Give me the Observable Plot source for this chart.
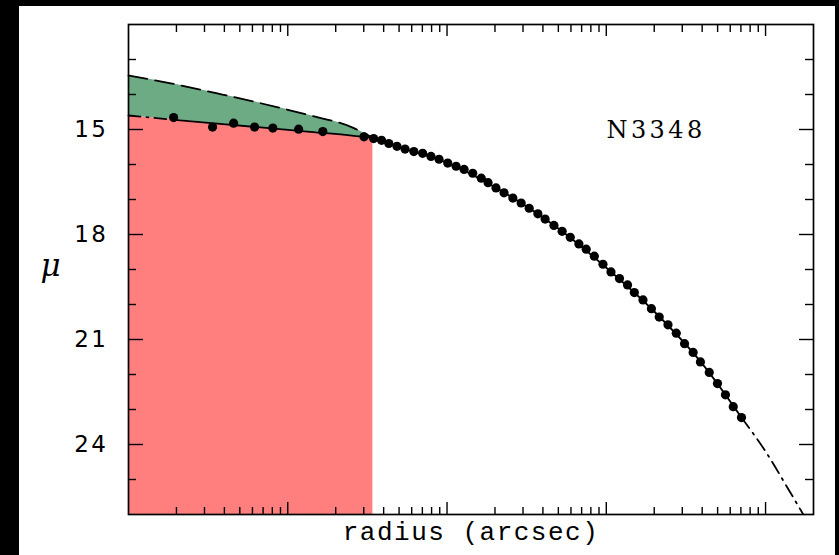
<!DOCTYPE html>
<html>
<head>
<meta charset="utf-8">
<script src="https://cdn.jsdelivr.net/npm/d3@7"></script>
<script src="https://cdn.jsdelivr.net/npm/@observablehq/plot@0.6"></script>
<style>
  html, body { margin: 0; padding: 0; background: #000; width: 839px; height: 555px; overflow: hidden; }
  #panel { position: absolute; left: 19px; top: 6px; width: 816px; height: 549px; background: #fff; }
  #chart { position: absolute; left: 0; top: 0; }
</style>
</head>
<body>
<div id="panel"></div>
<div id="chart"></div>
<script>
// ---- data ----
// inner (core) data points
const innerRadius = [0.0192, 0.0337, 0.0457, 0.0619, 0.0806, 0.117, 0.166];
const innerMu     = [14.66, 14.93, 14.82, 14.93, 14.96, 14.99, 15.06];

// outer data points
const outerRadius = [0.301, 0.346, 0.388, 0.431, 0.485, 0.545, 0.619, 0.703, 0.793, 0.891,
  1.01, 1.14, 1.28, 1.45, 1.64, 1.81, 2.03, 2.28, 2.59, 2.92,
  3.28, 3.72, 4.13, 4.69, 5.28, 5.94, 6.73, 7.48, 8.41, 9.53,
  10.7, 12.1, 13.6, 15.0, 17.0, 19.2, 21.5, 24.4, 27.5, 31.0,
  35.1, 39.0, 44.3, 49.9, 56.0, 62.7, 70.6];
const outerMu = [15.21, 15.26, 15.31, 15.40, 15.48, 15.56, 15.63, 15.68, 15.77, 15.85,
  15.96, 16.05, 16.14, 16.25, 16.39, 16.52, 16.67, 16.81, 16.96, 17.10,
  17.25, 17.41, 17.56, 17.74, 17.91, 18.08, 18.27, 18.42, 18.62, 18.85,
  19.07, 19.26, 19.44, 19.66, 19.87, 20.12, 20.36, 20.58, 20.82, 21.12,
  21.37, 21.64, 21.94, 22.26, 22.58, 22.92, 23.23];

// core region: inward Sersic extrapolation (dashed) and core power law (solid)
const coreRadius   = [0.01, 0.0184, 0.0361, 0.0676, 0.133, 0.26, 0.3424];
const coreSersicMu = [13.46, 13.68, 13.97, 14.25, 14.58, 14.96, 15.24];
const corePowerMu  = [14.60, 14.71, 14.83, 14.94, 15.06, 15.18, 15.24];

// fitted core-Sersic model over the data range (solid)
const fitRadius = [0.0192, 0.0361, 0.0676, 0.133, 0.26, 0.3424, 0.40, 0.5, 1, 2, 5, 10, 20, 40, 70.6];
const fitMu     = [14.72, 14.83, 14.94, 15.06, 15.18, 15.24, 15.33, 15.50, 15.95, 16.65, 17.83, 18.95, 20.2, 21.69, 23.23];

// model extrapolated beyond the data (dash-dot)
const extInnerRadius = [0.01, 0.0192];
const extInnerMu     = [14.60, 14.72];
const extOuterRadius = [70.6, 100, 140, 172.6];
const extOuterMu     = [23.23, 24.2, 25.3, 26.0];

// axes
const yMajorTicks = [15, 18, 21, 24];
const yMinorTicks = [13, 14, 16, 17, 19, 20, 22, 23, 25];
const xMajorTicks = [0.1, 1, 10, 100];
const decades = [0.01, 0.1, 1, 10, 100];
const mantissas = [2, 3, 4, 5, 6, 7, 8, 9];
const xMinorTicks = decades.flatMap(d => mantissas.map(m => +(d * m).toPrecision(3))).filter(v => v < 200);
const galaxyName = "N3348";
const xTitle = "radius (arcsec)";
const yTitle = "μ";

// ---- tables ----
const inner = innerRadius.map((r, i) => ({r, mu: innerMu[i]}));
const outer = outerRadius.map((r, i) => ({r, mu: outerMu[i]}));
const core = coreRadius.map((r, i) => ({r, sersic: coreSersicMu[i], power: corePowerMu[i]}));
const fit = fitRadius.map((r, i) => ({r, mu: fitMu[i]}));
const extIn = extInnerRadius.map((r, i) => ({r, mu: extInnerMu[i]}));
const extOut = extOuterRadius.map((r, i) => ({r, mu: extOuterMu[i]}));

const W = 839, H = 555, mL = 128, mR = 26, mT = 24, mB = 41;
const innerW = W - mL - mR, innerH = H - mT - mB;
const tickW = 1.4;
const lineW = 1.8;

const chart = Plot.plot({
  width: W, height: H,
  marginLeft: mL, marginRight: mR, marginTop: mT, marginBottom: mB,
  style: {background: "transparent", overflow: "visible", color: "black"},
  x: {type: "log", domain: [0.01, 200], axis: null},
  y: {domain: [12, 26], reverse: true, axis: null},
  marks: [
    // pink region below the core power law
    Plot.areaY(core, {x: "r", y1: "power", y2: 26, fill: "#ff7f7f", curve: "monotone-x"}),
    // green "missing light" region
    Plot.areaY(core, {x: "r", y1: "sersic", y2: "power", fill: "#6dab85", curve: "monotone-x"}),
    // dashed inward Sersic
    Plot.line(core, {x: "r", y: "sersic", stroke: "black", strokeWidth: lineW, strokeDasharray: "19,8", curve: "monotone-x"}),
    // solid fit
    Plot.line(fit, {x: "r", y: "mu", stroke: "black", strokeWidth: lineW, curve: "monotone-x"}),
    // dash-dot extrapolations
    Plot.line(extIn, {x: "r", y: "mu", stroke: "black", strokeWidth: lineW, strokeDasharray: "12,6,2,6"}),
    Plot.line(extOut, {x: "r", y: "mu", stroke: "black", strokeWidth: lineW, strokeDasharray: "13,6,2,6", curve: "monotone-x", clip: true}),
    // data points
    Plot.dot(inner, {x: "r", y: "mu", r: 4.6, fill: "black"}),
    Plot.dot(outer, {x: "r", y: "mu", r: 4.6, fill: "black"}),
    // frame
    Plot.frame({stroke: "black", strokeWidth: 1.7}),
    // y ticks, left and right, inward
    Plot.tickY(yMajorTicks, {y: d => d, stroke: "black", strokeWidth: tickW, insetRight: innerW - 15}),
    Plot.tickY(yMinorTicks, {y: d => d, stroke: "black", strokeWidth: tickW, insetRight: innerW - 8}),
    Plot.tickY(yMajorTicks, {y: d => d, stroke: "black", strokeWidth: tickW, insetLeft: innerW - 14}),
    Plot.tickY(yMinorTicks, {y: d => d, stroke: "black", strokeWidth: tickW, insetLeft: innerW - 8}),
    // x ticks, bottom and top, inward
    Plot.tickX(xMajorTicks, {x: d => d, stroke: "black", strokeWidth: tickW, insetTop: innerH - 12}),
    Plot.tickX(xMinorTicks, {x: d => d, stroke: "black", strokeWidth: tickW, insetTop: innerH - 7}),
    Plot.tickX(xMajorTicks, {x: d => d, stroke: "black", strokeWidth: tickW, insetBottom: innerH - 12}),
    Plot.tickX(xMinorTicks, {x: d => d, stroke: "black", strokeWidth: tickW, insetBottom: innerH - 8}),
    // y tick labels
    Plot.text(yMajorTicks, {y: d => d, text: d => String(d), frameAnchor: "left", dx: -20, textAnchor: "end",
      fontSize: 23, fontFamily: "DejaVu Sans", fill: "black"}),
    // axis titles
    Plot.text([xTitle], {text: d => d, frameAnchor: "bottom", dy: 25, textAnchor: "middle",
      fontSize: 26, fontFamily: "Liberation Mono", fill: "black"}),
    Plot.text([yTitle], {text: d => d, frameAnchor: "left", dx: -78, dy: -3, textAnchor: "middle",
      fontSize: 31, fontStyle: "italic", fontFamily: "DejaVu Serif", fill: "black"}),
    // galaxy name
    Plot.text([galaxyName], {text: d => d, frameAnchor: "top-left", dx: 478, dy: 96, textAnchor: "start",
      fontSize: 24, fontFamily: "DejaVu Serif", fill: "black"})
  ]
});
// letter spacing to mimic the wide plotting font of the original
chart.querySelectorAll("text").forEach(t => {
  const s = t.textContent;
  if (s === xTitle) t.style.letterSpacing = "1.5px";
  else if (s === galaxyName) t.style.letterSpacing = "3.4px";
  else if (yMajorTicks.map(String).includes(s)) t.style.letterSpacing = "2.5px";
});
document.getElementById("chart").appendChild(chart);
</script>
</body>
</html>
